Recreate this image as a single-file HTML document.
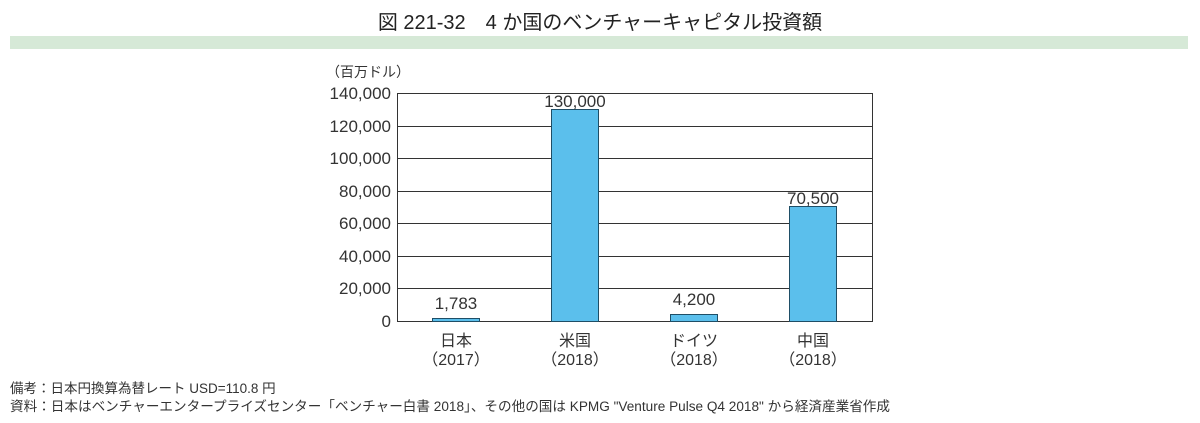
<!DOCTYPE html>
<html><head><meta charset="utf-8"><style>
body{margin:0;background:#fff;width:1200px;height:423px;overflow:hidden;font-family:"Liberation Sans","Noto Sans CJK JP",sans-serif;color:#333}
.t{position:absolute;white-space:nowrap}
</style></head><body>
<div class="t" style="left:0;width:1200px;top:6px;text-align:center;font-size:20px;color:#222">図 221-32　4 か国のベンチャーキャピタル投資額</div>
<div style="position:absolute;left:10px;top:36px;width:1178px;height:13px;background:#d6e9d7"></div>
<svg style="position:absolute;left:0;top:0" width="1200" height="423" font-family="Liberation Sans, Noto Sans CJK JP, sans-serif" fill="#333">
<text x="326" y="77" font-size="14">（百万ドル）</text>
<g stroke="#333" stroke-width="1">
<line x1="397" y1="93.5" x2="873" y2="93.5"/><line x1="397" y1="126.5" x2="873" y2="126.5"/>
<line x1="397" y1="158.5" x2="873" y2="158.5"/><line x1="397" y1="191.5" x2="873" y2="191.5"/>
<line x1="397" y1="223.5" x2="873" y2="223.5"/><line x1="397" y1="256.5" x2="873" y2="256.5"/>
<line x1="397" y1="288.5" x2="873" y2="288.5"/><line x1="397" y1="321.5" x2="873" y2="321.5"/>
<line x1="397.5" y1="93" x2="397.5" y2="321"/><line x1="872.5" y1="93" x2="872.5" y2="321"/>
</g>
<g font-size="17" text-anchor="end">
<text x="391" y="99">140,000</text><text x="391" y="132">120,000</text><text x="391" y="164">100,000</text>
<text x="391" y="197">80,000</text><text x="391" y="229">60,000</text><text x="391" y="262">40,000</text>
<text x="391" y="294">20,000</text><text x="391" y="327">0</text></g>
<g fill="#5bbfec" stroke="#1f4e66" stroke-width="1">
<rect x="432.5" y="318.5" width="47" height="3"/>
<rect x="551.5" y="109.5" width="47" height="212"/>
<rect x="670.5" y="314.5" width="47" height="7"/>
<rect x="789.5" y="206.5" width="47" height="115"/>
</g>
<g font-size="17" text-anchor="middle">
<text x="456" y="309">1,783</text><text x="575" y="107">130,000</text>
<text x="694" y="305">4,200</text><text x="813" y="204">70,500</text>
</g>
<g font-size="16" text-anchor="middle">
<text x="456" y="346">日本</text><text x="456" y="365">（2017）</text>
<text x="575" y="346">米国</text><text x="575" y="365">（2018）</text>
<text x="694" y="346">ドイツ</text><text x="694" y="365">（2018）</text>
<text x="813" y="346">中国</text><text x="813" y="365">（2018）</text>
</g>
<g font-size="13.5">
<text x="10" y="393">備考：日本円換算為替レート USD=110.8 円</text>
<text x="10" y="411" textLength="880" lengthAdjust="spacingAndGlyphs">資料：日本はベンチャーエンタープライズセンター「ベンチャー白書 2018」、その他の国は KPMG "Venture Pulse Q4 2018" から経済産業省作成</text>
</g>
</svg>
</body></html>
